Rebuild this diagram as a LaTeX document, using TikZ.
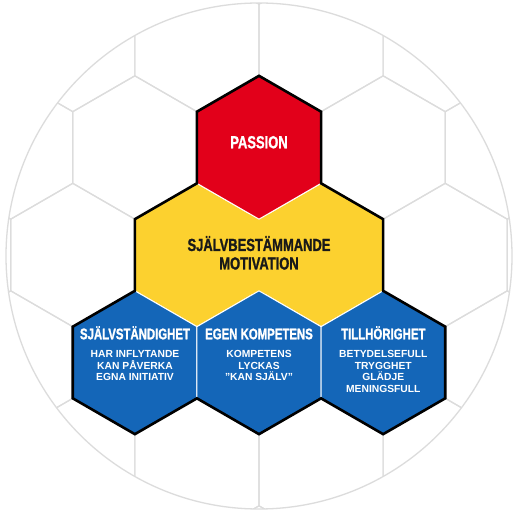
\documentclass[tikz,border=0pt]{standalone}
\usepackage{fontspec}
\setmainfont{Liberation Sans}[BoldFont={* Bold}]
\newfontfamily\titlefont{Liberation Sans}[UprightFont={* Bold}, FakeStretch=0.74, FakeBold=1.2]
\newfontfamily\subfont{Liberation Sans}[UprightFont={* Bold}]
\definecolor{svred}{HTML}{E2001A}
\definecolor{svyellow}{HTML}{FCD12F}
\definecolor{svblue}{HTML}{1466B8}
\definecolor{gridgray}{HTML}{DCDCDC}
\newcommand\hexR{71.67}
\begin{document}
\begin{tikzpicture}[x=1pt,y=1pt,
  hex/.pic={\path[pic actions] (90:\hexR) -- (30:\hexR) -- (-30:\hexR) -- (-90:\hexR) -- (-150:\hexR) -- (150:\hexR) -- cycle;},
  gridhex/.style={draw=gridgray, line width=1.2pt, line join=round},
  colhex/.style={draw=white, line width=1pt, line join=miter},
  outline/.style={draw=black, line width=2.6pt, line join=miter},
  bigtitle/.style={font=\titlefont\fontsize{17.5}{18}\selectfont, anchor=base, inner sep=0pt},
  bluetitle/.style={font=\titlefont\fontsize{15.4}{16}\selectfont, text=white, anchor=base, inner sep=0pt},
  subline/.style={font=\subfont\fontsize{10.3}{11}\selectfont, text=white, anchor=base, inner sep=0pt}]
\useasboundingbox (0,0) rectangle (519,514);
\fill[white] (0,0) rectangle (519,514);
% background honeycomb
\begin{scope}
\clip (259,258) circle (253);
\foreach \j in {-4,...,2}{
  \pgfmathsetmacro\off{mod(abs(\j),2)*62.07}
  \pgfmathsetmacro\yy{366.5+\j*107.5}
  \foreach \k in {-3,...,3}{
    \pgfmathsetmacro\xx{259+\k*124.14+\off}
    \pic[gridhex] at (\xx,\yy) {hex};
  }
}
\end{scope}
\draw[gridgray, line width=1.3pt] (259,258) circle (253);
% coloured hexagons
\pic[colhex, fill=svyellow] (yl) at (196.93,259) {hex};
\pic[colhex, fill=svyellow] (yr) at (321.07,259) {hex};
\fill[svyellow] (196.93,220) rectangle (321.07,300);
\pic[colhex, fill=svred] (red) at (259,366.5) {hex};
\pic[colhex, fill=svblue] (bl) at (134.86,151.5) {hex};
\pic[colhex, fill=svblue] (bm) at (259,151.5) {hex};
\pic[colhex, fill=svblue] (br) at (383.14,151.5) {hex};
% outer outline
\draw[outline] (259,438.17) -- (321.07,402.335) -- (321.07,330.665)
  -- (383.14,294.835) -- (383.14,223.165)
  -- (445.21,187.335) -- (445.21,115.665) -- (383.14,79.83) -- (321.07,115.665)
  -- (259,79.83) -- (196.93,115.665)
  -- (134.86,79.83) -- (72.79,115.665) -- (72.79,187.335) -- (134.86,223.165)
  -- (134.86,294.835) -- (196.93,330.665)
  -- (196.93,402.335) -- cycle;
% texts
\node[bigtitle, text=white] (tpassion) at (259,365.7) {PASSION};
\node[bigtitle, text=black!90] (tsbm1) at (259,263) {SJÄLVBESTÄMMANDE};
\node[bigtitle, text=black!90] (tsbm2) at (259,244.5) {MOTIVATION};
\node[bluetitle] (tsj) at (135,174.7) {SJÄLVSTÄNDIGHET};
\node[bluetitle] (teg) at (259,174.7) {EGEN KOMPETENS};
\node[bluetitle] (ttl) at (383.3,174.7) {TILLHÖRIGHET};
\node[subline] (sj1) at (135,156.7) {HAR INFLYTANDE};
\node[subline] (sj2) at (135,144.9) {KAN PÅVERKA};
\node[subline] (sj3) at (135,133.1) {EGNA INITIATIV};
\node[subline] (eg1) at (259,156.7) {KOMPETENS};
\node[subline] (eg2) at (259,144.9) {LYCKAS};
\node[subline] (eg3) at (259,133.1) {”KAN SJÄLV”};
\node[subline] (tl1) at (383.3,156.7) {BETYDELSEFULL};
\node[subline] (tl2) at (383.3,144.9) {TRYGGHET};
\node[subline] (tl3) at (383.3,133.1) {GLÄDJE};
\node[subline] (tl4) at (383.3,121.3) {MENINGSFULL};
\end{tikzpicture}
\end{document}
